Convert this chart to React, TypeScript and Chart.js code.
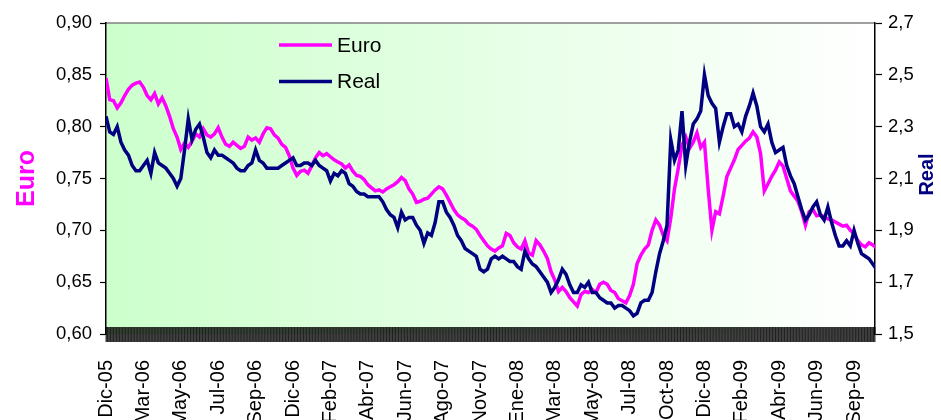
import React, { useEffect, useRef } from 'react';
import { Chart, registerables } from 'chart.js';

Chart.register(...registerables);

const xTickLabels = ['Dic-05', 'Mar-06', 'May-06', 'Jul-06', 'Sep-06', 'Dic-06', 'Feb-07', 'Abr-07', 'Jun-07', 'Ago-07', 'Nov-07', 'Ene-08', 'Mar-08', 'May-08', 'Jul-08', 'Oct-08', 'Dic-08', 'Feb-09', 'Abr-09', 'Jun-09', 'Sep-09'];
const DAY_STEP = 5;
const LABEL_EVERY = 50;
const LAST_DAY = 1028;

const euro = [
  0.847, 0.826, 0.825, 0.818, 0.823, 0.830, 0.836, 0.840, 0.842, 0.843,
  0.838, 0.830, 0.826, 0.832, 0.822, 0.828, 0.820, 0.810, 0.798, 0.790,
  0.778, 0.784, 0.780, 0.786, 0.793, 0.790, 0.798, 0.792, 0.790, 0.793,
  0.799, 0.790, 0.783, 0.781, 0.785, 0.782, 0.779, 0.781, 0.790, 0.787,
  0.789, 0.785, 0.793, 0.799, 0.798, 0.792, 0.789, 0.783, 0.780, 0.772,
  0.760, 0.753, 0.757, 0.758, 0.755, 0.762, 0.770, 0.775, 0.772, 0.774,
  0.771, 0.768, 0.766, 0.764, 0.760, 0.763, 0.757, 0.753, 0.752, 0.749,
  0.744, 0.741, 0.738, 0.739, 0.737, 0.740, 0.742, 0.744, 0.747, 0.751,
  0.748, 0.740, 0.735, 0.727, 0.728, 0.730, 0.731, 0.735, 0.739, 0.742,
  0.740, 0.734, 0.727, 0.720, 0.715, 0.712, 0.710, 0.706, 0.704, 0.701,
  0.695, 0.690, 0.685, 0.682, 0.680, 0.683, 0.685, 0.697, 0.695, 0.688,
  0.684, 0.682, 0.690, 0.678, 0.676, 0.690, 0.686, 0.680, 0.673, 0.660,
  0.652, 0.641, 0.645, 0.641, 0.635, 0.631, 0.627, 0.638, 0.641, 0.640,
  0.643, 0.640, 0.648, 0.650, 0.648, 0.642, 0.640, 0.634, 0.632, 0.630,
  0.637, 0.648, 0.668, 0.676, 0.682, 0.686, 0.700, 0.710, 0.705, 0.695,
  0.690, 0.712, 0.740, 0.760, 0.782, 0.790, 0.779, 0.785, 0.794, 0.780,
  0.785, 0.740, 0.700, 0.718, 0.716, 0.733, 0.752, 0.760, 0.768, 0.778,
  0.782, 0.786, 0.789, 0.795, 0.790, 0.774, 0.738, 0.745, 0.752, 0.758,
  0.766, 0.762, 0.750, 0.738, 0.733, 0.728, 0.718, 0.705, 0.718, 0.720,
  0.714, 0.715, 0.713, 0.711, 0.710, 0.708, 0.706, 0.704, 0.705, 0.700,
  0.697, 0.690, 0.686, 0.684, 0.688, 0.686, 0.683,
];

const real = [
  2.34, 2.28, 2.27, 2.30, 2.24, 2.21, 2.19, 2.15, 2.13, 2.13,
  2.15, 2.17, 2.12, 2.20, 2.16, 2.15, 2.14, 2.12, 2.10, 2.07,
  2.10, 2.21, 2.33, 2.25, 2.29, 2.31, 2.26, 2.20, 2.18, 2.21,
  2.19, 2.19, 2.18, 2.17, 2.16, 2.14, 2.13, 2.13, 2.15, 2.16,
  2.21, 2.17, 2.16, 2.14, 2.14, 2.14, 2.14, 2.15, 2.16, 2.17,
  2.18, 2.15, 2.15, 2.16, 2.16, 2.15, 2.17, 2.15, 2.14, 2.13,
  2.09, 2.12, 2.11, 2.13, 2.12, 2.08, 2.07, 2.05, 2.04, 2.04,
  2.03, 2.03, 2.03, 2.03, 2.01, 1.98, 1.96, 1.95, 1.91, 1.97,
  1.94, 1.95, 1.95, 1.92, 1.90, 1.85, 1.89, 1.88, 1.93, 2.01,
  2.01, 1.97, 1.95, 1.92, 1.88, 1.86, 1.83, 1.82, 1.81, 1.80,
  1.75, 1.74, 1.75, 1.79, 1.80, 1.79, 1.80, 1.79, 1.78, 1.78,
  1.76, 1.75, 1.82, 1.79, 1.77, 1.76, 1.74, 1.72, 1.70, 1.66,
  1.68, 1.71, 1.75, 1.73, 1.69, 1.66, 1.66, 1.69, 1.68, 1.70,
  1.66, 1.66, 1.64, 1.63, 1.62, 1.62, 1.60, 1.61, 1.61, 1.60,
  1.59, 1.57, 1.58, 1.62, 1.63, 1.63, 1.66, 1.74, 1.81, 1.86,
  1.92, 2.25, 2.17, 2.21, 2.36, 2.15, 2.24, 2.31, 2.33, 2.36,
  2.50, 2.42, 2.39, 2.37, 2.24, 2.30, 2.35, 2.35, 2.30, 2.31,
  2.28, 2.34, 2.38, 2.43, 2.38, 2.30, 2.28, 2.31, 2.24, 2.20,
  2.21, 2.22, 2.15, 2.11, 2.08, 2.03, 1.98, 1.94, 1.96, 1.99,
  2.01, 1.96, 1.94, 1.99, 1.93, 1.88, 1.84, 1.84, 1.86, 1.84,
  1.90, 1.85, 1.81, 1.80, 1.79, 1.77, 1.75,
];

const leftTitle = 'Euro';
const rightTitle = 'Real';
const EURO_COLOR = '#FF00FF';
const REAL_COLOR = '#000080';
const FONT = "'Liberation Sans', Arial, sans-serif";

export default function App() {
  const ref = useRef<HTMLCanvasElement>(null);

  useEffect(() => {
    if (!ref.current) return;
    Chart.defaults.font.family = FONT;

    const decor = {
      id: 'decor',
      beforeDraw(chart: any) {
        const { ctx, chartArea: a } = chart;
        ctx.save();
        const g = ctx.createLinearGradient(a.left, 0, a.right, 0);
        g.addColorStop(0, '#CCFFCC');
        g.addColorStop(1, '#FFFFFF');
        ctx.fillStyle = g;
        ctx.fillRect(a.left, a.top, a.right - a.left, a.bottom - a.top);
        ctx.strokeStyle = '#808080';
        ctx.lineWidth = 1.5;
        ctx.beginPath();
        ctx.moveTo(a.left, a.top);
        ctx.lineTo(a.right, a.top);
        ctx.stroke();
        ctx.restore();
      },
      afterDraw(chart: any) {
        const { ctx, chartArea: a } = chart;
        const xs = chart.scales.x;
        ctx.save();
        // dense category tick band (one tick per trading day)
        ctx.strokeStyle = '#000';
        ctx.lineWidth = 0.8;
        ctx.beginPath();
        for (let d = 0; d <= LAST_DAY; d++) {
          const px = xs.getPixelForValue(d);
          ctx.moveTo(px, a.bottom - 7);
          ctx.lineTo(px, a.bottom + 8);
        }
        ctx.stroke();

        // axis titles
        const cy = (a.top + a.bottom) / 2;
        ctx.textAlign = 'center';
        ctx.textBaseline = 'middle';
        ctx.save();
        ctx.translate(27, cy);
        ctx.rotate(-Math.PI / 2);
        ctx.fillStyle = EURO_COLOR;
        ctx.font = `bold 25px ${FONT}`;
        ctx.fillText(leftTitle, 0, 0);
        ctx.restore();
        ctx.save();
        ctx.translate(927, cy - 4);
        ctx.rotate(-Math.PI / 2);
        ctx.fillStyle = REAL_COLOR;
        ctx.font = `bold 20px ${FONT}`;
        ctx.fillText(rightTitle, 0, 0);
        ctx.restore();

        // legend
        const x0 = a.left + 173;
        const y0 = a.top + 22;
        ctx.font = `21px ${FONT}`;
        ctx.textAlign = 'left';
        chart.data.datasets.forEach((ds: any, i: number) => {
          const y = y0 + i * 36.5;
          ctx.strokeStyle = ds.borderColor;
          ctx.lineWidth = 3.5;
          ctx.beginPath();
          ctx.moveTo(x0, y);
          ctx.lineTo(x0 + 53, y);
          ctx.stroke();
          ctx.fillStyle = '#000';
          ctx.fillText(ds.label, x0 + 58, y + 1);
        });
        ctx.restore();
      },
    };

    const chart = new Chart(ref.current, {
      type: 'line',
      data: {
        datasets: [
          {
            label: 'Euro',
            data: euro.map((v, i) => ({ x: i * DAY_STEP, y: v })),
            borderColor: EURO_COLOR,
            borderWidth: 3.5,
            pointRadius: 0,
            tension: 0,
            yAxisID: 'y',
            order: 1,
          },
          {
            label: 'Real',
            data: real.map((v, i) => ({ x: i * DAY_STEP, y: v })),
            borderColor: REAL_COLOR,
            borderWidth: 3.5,
            pointRadius: 0,
            tension: 0,
            yAxisID: 'y1',
            order: 0,
          },
        ],
      },
      options: {
        animation: false,
        responsive: true,
        maintainAspectRatio: false,
        layout: { padding: { top: 23, left: 0, right: 0, bottom: 0 } },
        plugins: { legend: { display: false }, tooltip: { enabled: false } },
        scales: {
          x: {
            type: 'linear',
            min: 0,
            max: LAST_DAY,
            afterFit: (s: any) => { s.height = 86; },
            grid: { display: false, drawTicks: false },
            border: { display: false },
            ticks: {
              stepSize: LABEL_EVERY,
              includeBounds: false,
              autoSkip: false,
              minRotation: 90,
              maxRotation: 90,
              padding: 26,
              color: '#000',
              font: { size: 20, family: FONT },
              callback: (v: any) => xTickLabels[Math.round(Number(v) / LABEL_EVERY)] ?? '',
            },
          },
          y: {
            position: 'left',
            min: 0.6,
            max: 0.9,
            afterFit: (s: any) => { s.width = 106; },
            grid: { drawOnChartArea: false, drawTicks: true, tickLength: 6, color: '#000', tickColor: '#000', tickWidth: 1.2 },
            border: { display: true, color: '#000', width: 1.5 },
            ticks: {
              stepSize: 0.05,
              padding: 8,
              color: '#000',
              font: { size: 18.5, family: FONT },
              callback: (v: any) => Number(v).toFixed(2).replace('.', ','),
            },
          },
          y1: {
            position: 'right',
            min: 1.5,
            max: 2.7,
            afterFit: (s: any) => { s.width = 66; },
            grid: { drawOnChartArea: false, drawTicks: true, tickLength: 7, color: '#000', tickColor: '#000', tickWidth: 1.2 },
            border: { display: true, color: '#000', width: 1.5 },
            ticks: {
              stepSize: 0.2,
              padding: 6,
              color: '#000',
              font: { size: 18.5, family: FONT },
              callback: (v: any) => Number(v).toFixed(1).replace('.', ','),
            },
          },
        },
      },
      plugins: [decor],
    });

    return () => chart.destroy();
  }, []);

  return (
    <div style={{ position: 'absolute', left: 0, top: 0, width: 941, height: 420 }}>
      <canvas ref={ref} />
    </div>
  );
}
